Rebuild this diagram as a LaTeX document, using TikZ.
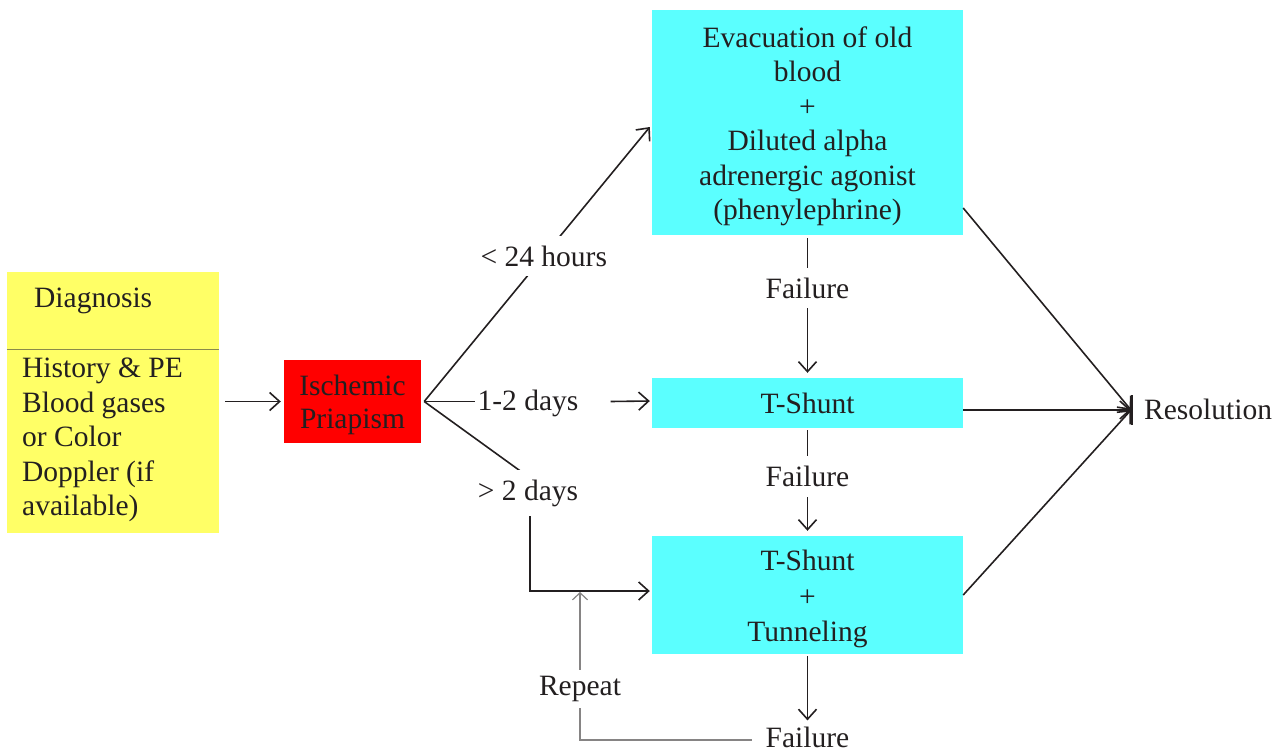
\documentclass[tikz,border=0pt]{standalone}
\usepackage{fontspec}
\setmainfont{Liberation Serif}
\usetikzlibrary{arrows.meta,calc}
\definecolor{cy}{HTML}{5BFFFF}
\definecolor{yl}{HTML}{FFFF66}
\definecolor{rd}{HTML}{FF0000}
\definecolor{txt}{HTML}{231F20}
\definecolor{divc}{HTML}{8A8A4A}
\begin{document}
\begin{tikzpicture}[x=1pt,y=-1pt,
  every node/.style={font=\fontsize{29.5}{34.5}\selectfont, text=txt},
  box/.style={fill=cy, minimum width=311pt, inner sep=0pt},
  btext/.style={align=center, inner sep=0pt},
  ln/.style={line width=1.6pt, draw=txt},
  arr/.style={ln, -{Straight Barb[length=10pt,width=18pt,line width=1.6pt]}},
  garr/.style={line width=1.4pt, draw=txt!55, -{Straight Barb[length=7pt,width=15pt,line width=1.2pt]}},
  lbl/.style={fill=white, inner xsep=2pt, inner ysep=10pt}]
\useasboundingbox (0,0) rectangle (1287,752);

% boxes
\node[fill=yl, minimum width=212pt, minimum height=261pt, inner sep=0pt] (diag) at (113,402.5) {};
\draw[line width=1.4pt, draw=divc] ($(diag.west)+(0,-53)$) -- ($(diag.east)+(0,-53)$);
\node[anchor=west, inner sep=0pt] (diagt) at (34,301) {Diagnosis};
\node[anchor=west, align=left, inner sep=0pt] (diagl) at (22,440) {History \& PE\\Blood gases\\or Color\\Doppler (if\\available)};

\node[fill=rd, minimum width=137pt, minimum height=83pt, inner sep=0pt] (isch) at (352.5,401.5) {};
\node[btext, font=\fontsize{29.5}{33}\selectfont] (ischt) at ($(isch.center)+(0,3)$) {Ischemic\\Priapism};

\node[box, minimum height=225pt] (top) at (807.5,122.5) {};
\node[btext] (topt) at ($(top.center)+(0,4)$) {Evacuation of old\\blood\\+\\Diluted alpha\\adrenergic agonist\\(phenylephrine)};
\node[box, minimum height=50pt, align=center] (tsh) at (807.5,403) {T-Shunt};
\node[box, minimum height=118pt] (tt) at (807.5,595) {};
\node[btext, font=\fontsize{29.5}{35.5}\selectfont] (ttt) at ($(tt.center)+(0,4)$) {T-Shunt\\+\\Tunneling};

\node[anchor=west, inner sep=2pt] (res) at (1142,409) {Resolution};
\node[inner sep=2pt] (f3) at (807.5,737) {Failure};

% connectors
\coordinate (fork) at ($(isch.east)+(3,0)$);
\draw[arr] ($(diag.east |- isch.west)+(6,0)$) -- ($(isch.west)+(-3,0)$);

\draw[arr] (fork) -- node[lbl, pos=0.53] {< 24 hours} ($(top.west)+(-2,4.5)$);

\node[lbl] (d12) at (528,403) {1-2 days};
\draw[ln] (fork) -- (d12.west |- fork);
\draw[arr] ($(d12.east |- fork)+(30,0)$) -- ($(tsh.west)+(-2,-2)$);

\coordinate (bend) at (530,478);
\coordinate (ttin) at ($(tt.west)+(-2,-4)$);
\draw[arr] (fork) -- (bend) -- (bend |- ttin) -- (ttin);
\node[lbl] (d2) at (528,493) {> 2 days};

\draw[arr] ($(top.south)+(0,3)$) -- node[lbl, pos=0.37] {Failure} ($(tsh.north)+(0,-5)$);
\draw[arr] ($(tsh.south)+(0,2)$) -- node[lbl, pos=0.46] {Failure} ($(tt.north)+(0,-5)$);
\draw[arr] ($(tt.south)+(0,2)$) -- ($(f3.north)+(0,-4)$);

\coordinate (rp) at ($(res.west)+(-11,1)$);
\draw[arr] ($(top.east)+(0,85.5)$) -- (rp);
\draw[arr] ($(tsh.east)+(0,7)$) -- (rp);
\draw[arr] ($(tt.east)+(0,0)$) -- (rp);
\draw[ln] ($(rp)+(1,-15)$) -- ($(rp)+(1,15)$);

\coordinate (rc) at (580,740);
\coordinate (rtop) at ($(tt.west)+(0,-3)$);
\draw[garr] ($(f3.west)+(-12,3)$) -- (rc) -- (rc |- rtop);
\node[fill=white, inner xsep=2pt, inner ysep=6pt] (rep) at (580,689) {Repeat};
\end{tikzpicture}
\end{document}
